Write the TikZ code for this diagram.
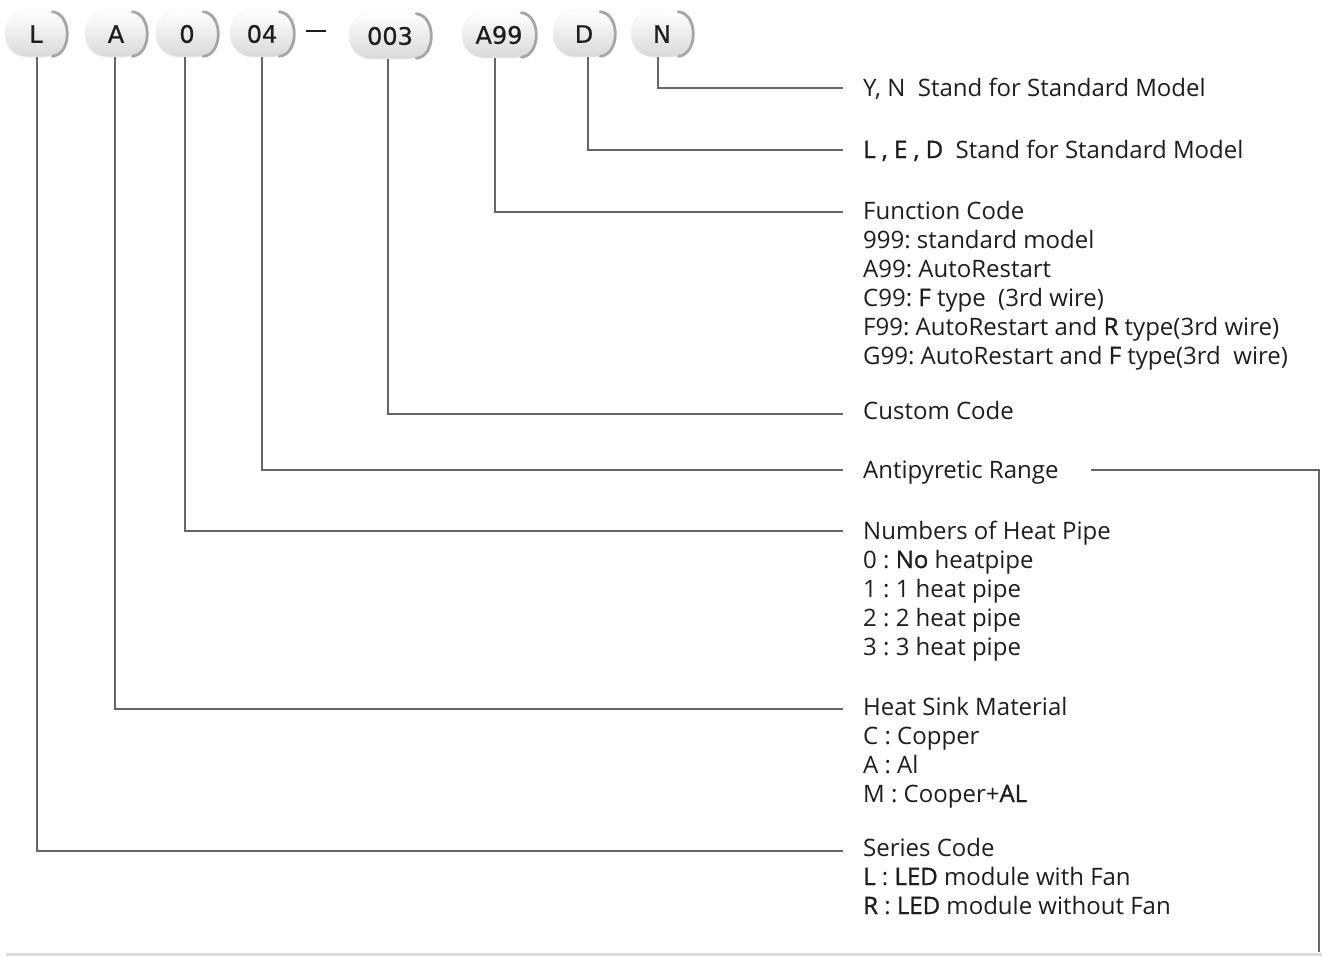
\documentclass[tikz,border=0pt]{standalone}
\usepackage{fontspec}
\setmainfont{Open Sans}
\newfontfamily\sbf[FakeBold=1.2]{Open Sans}
\newfontfamily\pillfont[FakeBold=0.8]{DejaVu Sans}
\definecolor{lineg}{HTML}{666666}
\definecolor{txt}{HTML}{1E1E1E}
\begin{document}
\frenchspacing
\begin{tikzpicture}[x=1pt,y=-1pt,
  conn/.style={draw=lineg,line width=2.8pt},
  pill/.style={rounded corners=22pt,minimum height=46pt,inner xsep=10pt,
    top color=white,bottom color=gray!30,draw=gray!10,line width=0.6pt,
    font=\pillfont\fontsize{24}{24}\selectfont,text=txt},
  lbl/.style={anchor=base west,align=left,inner sep=0pt,text=txt,
    font=\fontsize{24}{29}\selectfont}]
\useasboundingbox (0,0) rectangle (1327,956);
\newcommand\crescent[1]{%
  \draw[gray!70,line width=2.8pt,line cap=round]
    ([xshift=-15pt,yshift=-1pt]#1.north east)
    .. controls ([xshift=5pt,yshift=-3pt]#1.north east) and ([xshift=5pt,yshift=3pt]#1.south east)
    .. ([xshift=-15pt,yshift=1pt]#1.south east);}
% pills
\node[pill,minimum width=62pt] (pL) at (36,34) {L};
\node[pill,minimum width=62pt] (pA) at (116,34) {A};
\node[pill,minimum width=62pt] (p0) at (187,34) {0};
\node[pill,minimum width=64pt] (p04) at (262,34) {04};
\node[pill,minimum width=82pt] (p003) at (390,36) {003};
\node[pill,minimum width=74pt] (pA99) at (499,35) {A99};
\node[pill,minimum width=62pt] (pD) at (584,34) {D};
\node[pill,minimum width=62pt] (pN) at (662,34) {N};
\foreach \p in {pL,pA,p0,p04,p003,pA99,pD,pN}{\crescent{\p}}
\node[inner sep=0pt] (dash) at (316,31) {};
\draw[txt,line width=2.4pt] ([xshift=-10pt]dash.center) -- ([xshift=10pt]dash.center);
% end coordinates
\coordinate (eN) at (843,88);
\coordinate (eD) at (843,150);
\coordinate (eA99) at (843,212);
\coordinate (e003) at (843,414);
\coordinate (e04) at (843,470);
\coordinate (e0) at (843,531);
\coordinate (eA) at (843,709);
\coordinate (eL) at (843,851);
% connectors
\draw[conn] ([xshift=-4pt]pN.south) |- (eN);
\draw[conn] ([xshift=4pt]pD.south) |- (eD);
\draw[conn] ([xshift=-4pt]pA99.south) |- (eA99);
\draw[conn] ([xshift=-2pt]p003.south) |- (e003);
\draw[conn] (p04.south) |- (e04);
\draw[conn] ([xshift=-2pt]p0.south) |- (e0);
\draw[conn] ([xshift=-1pt]pA.south) |- (eA);
\draw[conn] ([xshift=1pt]pL.south) |- (eL);
% labels (anchor = baseline of the last line)
\node[lbl] (tN) at (863,96) {Y, N\ \ Stand for Standard Model};
\node[lbl] (tD) at (863,158) {{\sbf L , E , D}\ \ Stand for Standard Model};
\node[lbl] (tA99) at (863,364) {Function Code\\999: standard model\\A99: AutoRestart\\C99: {\sbf F} type\ \ (3rd wire)\\F99: AutoRestart and {\sbf R} type(3rd wire)\\G99: AutoRestart and {\sbf F} type(3rd\ \ wire)};
\node[lbl] (t003) at (863,419) {Custom Code};
\node[lbl] (t04) at (863,478) {Antipyretic Range};
\node[lbl] (t0) at (863,655) {Numbers of Heat Pipe\\0 : {\sbf No} heatpipe\\1 : 1 heat pipe\\2 : 2 heat pipe\\3 : 3 heat pipe};
\node[lbl] (tA) at (863,802) {Heat Sink Material\\C : Copper\\A : Al\\M : Cooper+{\sbf AL}};
\node[lbl] (tL) at (863,914) {Series Code\\{\sbf L} : {\sbf LED} module with Fan\\{\sbf R} : {\sbf LED} module without Fan};
% right bracket
\coordinate (aS) at (1091,470);
\coordinate (aB) at (1319,952);
\draw[conn] (aS) -| (aB);
% bottom line
\coordinate (b1) at (6,954);
\coordinate (b2) at (1322,954);
\draw[gray!30,line width=3pt] (b1) -- (b2);
\end{tikzpicture}
\end{document}
